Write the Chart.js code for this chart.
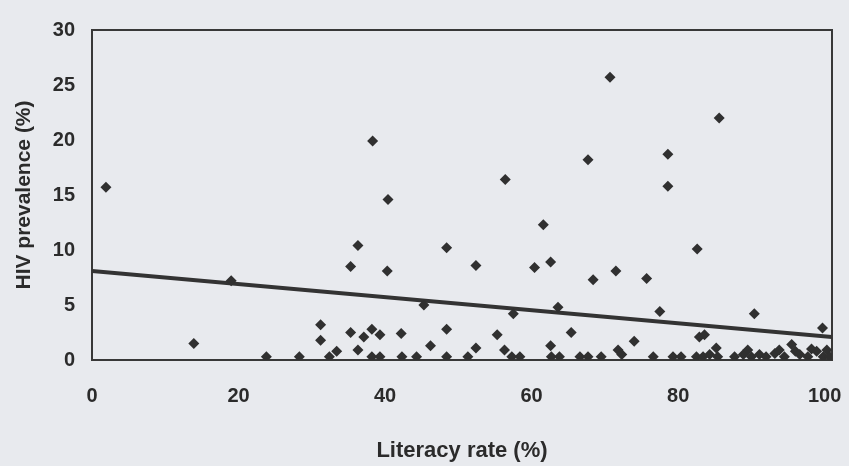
<!DOCTYPE html>
<html>
<head>
<meta charset="utf-8">
<title>HIV prevalence vs literacy rate</title>
<script src="https://cdn.jsdelivr.net/npm/chart.js@4.4.1/dist/chart.umd.min.js"></script>
<style>
    html, body {
        margin: 0;
        padding: 0;
        background: #e8eaee;
    }
    #wrap {
        position: relative;
        width: 849px;
        height: 466px;
    }
</style>
</head>
<body>
<div id="wrap"><canvas id="scatter"></canvas></div>
<script>
// Literacy rate (%) of each country
const literacy = [
    1.9, 13.9, 19.0, 23.8, 28.3, 31.2, 31.2, 32.4, 33.4, 35.3,
    36.3, 35.3, 36.3, 37.1, 38.2, 38.3, 38.2, 39.3, 39.3, 40.3,
    40.4, 42.2, 42.3, 44.3, 45.3, 46.2, 48.4, 48.4, 48.4, 51.3,
    52.4, 52.4, 55.3, 56.3, 56.4, 57.3, 57.5, 58.4, 60.4, 61.6,
    62.6, 62.6, 62.7, 63.6, 63.8, 65.4, 66.6, 67.7, 67.7, 68.4,
    69.5, 70.7, 71.5, 71.8, 72.3, 74.0, 75.7, 76.6, 77.5, 78.6,
    78.6, 79.3, 80.4, 82.5, 82.6, 82.9, 83.6, 83.4, 84.3, 85.2,
    85.4, 85.6, 87.7, 88.9, 89.5, 90.0, 90.4, 91.1, 92.0, 93.2,
    93.8, 94.5, 95.5, 96.0, 96.6, 97.7, 98.2, 98.9, 99.7, 99.8,
    100.3, 100.7
];

// HIV prevalence (%) for the same countries
const prevalence = [
    15.7, 1.5, 7.2, 0.3, 0.3, 3.2, 1.8, 0.3, 0.8, 8.5,
    10.4, 2.5, 0.9, 2.1, 2.8, 19.9, 0.3, 2.3, 0.3, 8.1,
    14.6, 2.4, 0.3, 0.3, 5.0, 1.3, 10.2, 2.8, 0.3, 0.3,
    8.6, 1.1, 2.3, 0.9, 16.4, 0.3, 4.2, 0.3, 8.4, 12.3,
    8.9, 1.3, 0.3, 4.8, 0.3, 2.5, 0.3, 18.2, 0.3, 7.3,
    0.3, 25.7, 8.1, 0.9, 0.5, 1.7, 7.4, 0.3, 4.4, 18.7,
    15.8, 0.3, 0.3, 0.3, 10.1, 2.1, 2.3, 0.3, 0.5, 1.1,
    0.3, 22.0, 0.3, 0.5, 0.9, 0.3, 4.2, 0.5, 0.3, 0.6,
    0.9, 0.3, 1.4, 0.8, 0.5, 0.3, 1.0, 0.8, 2.9, 0.3,
    0.9, 0.3
];

// Fitted trend line, start and end
const trendX = [0, 101];
const trendY = [8.1, 2.1];

const xTicks = [0, 20, 40, 60, 80, 100];
const yTicks = [0, 5, 10, 15, 20, 25, 30];

const inkColor = '#2b2b2b';
const fontFamily = '"Liberation Sans", Arial, sans-serif';

// box round the plot area (top and right sides have no axis)
const plotFrame = {
    id: 'plotFrame',
    beforeDatasetsDraw(chart) {
        const {ctx, chartArea} = chart;
        ctx.save();
        ctx.strokeStyle = '#383838';
        ctx.lineWidth = 2;
        ctx.strokeRect(chartArea.left, chartArea.top,
            chartArea.right - chartArea.left, chartArea.bottom - chartArea.top);
        ctx.restore();
    }
};

const points = literacy.map((x, i) => ({x: x, y: prevalence[i]}));
const trend = trendX.map((x, i) => ({x: x, y: trendY[i]}));

const ctx = document.getElementById('scatter').getContext('2d');

new Chart(ctx, {
    type: 'scatter',
    data: {
        datasets: [
            {
                label: 'Countries',
                data: points,
                pointStyle: 'rectRot',
                pointRadius: 5.5,
                backgroundColor: '#303030',
                borderColor: '#303030',
                borderWidth: 0
            },
            {
                label: 'Trend',
                type: 'line',
                data: trend,
                showLine: true,
                pointRadius: 0,
                borderColor: '#333333',
                borderWidth: 4,
                fill: false
            }
        ]
    },
    options: {
        responsive: true,
        maintainAspectRatio: false,
        animation: false,
        layout: {
            padding: {top: 30, right: 0, left: 0, bottom: 0}
        },
        plugins: {
            legend: {display: false},
            tooltip: {enabled: false}
        },
        scales: {
            x: {
                type: 'linear',
                min: 0,
                max: 101,
                afterBuildTicks: scale => {
                    scale.ticks = xTicks.map(v => ({value: v}));
                },
                afterFit: scale => {
                    scale.height = 106;
                    // keep the plot box 17px from the right edge
                    scale.paddingLeft = 0;
                    scale.paddingRight = 17;
                },
                grid: {display: false, drawTicks: false},
                border: {display: false},
                ticks: {
                    color: inkColor,
                    padding: 24,
                    maxRotation: 0,
                    font: {family: fontFamily, size: 20, weight: 'bold'}
                },
                title: {
                    display: true,
                    text: 'Literacy rate (%)',
                    color: inkColor,
                    padding: {top: 0, bottom: 4},
                    font: {family: fontFamily, size: 22, weight: 'bold', lineHeight: 1}
                }
            },
            y: {
                type: 'linear',
                min: 0,
                max: 30,
                afterBuildTicks: scale => {
                    scale.ticks = yTicks.map(v => ({value: v}));
                },
                afterFit: scale => {
                    scale.width = 92;
                },
                grid: {display: false, drawTicks: false},
                border: {display: false},
                ticks: {
                    color: inkColor,
                    padding: 17,
                    font: {family: fontFamily, size: 20, weight: 'bold'}
                },
                title: {
                    display: true,
                    text: 'HIV prevalence (%)',
                    color: inkColor,
                    padding: {top: 14, bottom: 0},
                    font: {family: fontFamily, size: 21, weight: 'bold', lineHeight: 1}
                }
            }
        }
    },
    plugins: [plotFrame]
});
</script>
</body>
</html>
